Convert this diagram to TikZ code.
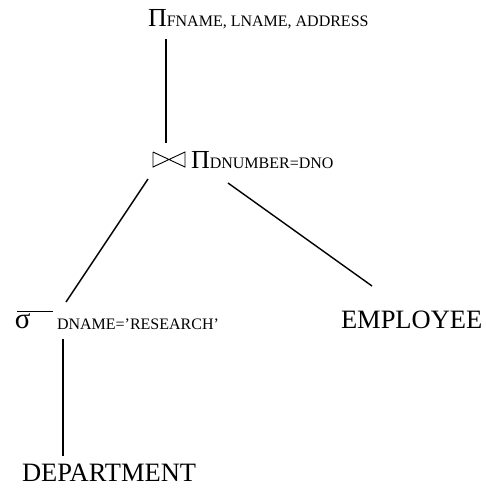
\documentclass[tikz,border=0pt]{standalone}
\usepackage{fontspec}
\setmainfont{Liberation Serif}
\begin{document}
\begin{tikzpicture}[x=1pt,y=-1pt,
  lbl/.style={inner sep=0pt,outer sep=0pt,anchor=base west},
  big/.style={font=\fontsize{26.5}{28}\selectfont},
  small/.style={font=\fontsize{16}{18}\selectfont},
  edge/.style={line width=1.4pt},
  vedge/.style={line width=2pt},
  opsym/.style={line width=0.9pt}]
\useasboundingbox (0,0) rectangle (486,488);

% projection on top
\node[lbl] (proj) at (148,26)
  {{\fontsize{26}{28}\selectfont Π}{\fontsize{16}{18}\selectfont FNAME, LNAME, ADDRESS}};

% join with its condition
\node[lbl] (join) at (191,168)
  {{\fontsize{26}{28}\selectfont Π}{\fontsize{16}{18}\selectfont DNUMBER=DNO}};
\draw[opsym] ([shift={(-38,-16)}]join.base west) -- ++(0,15)
  -- ++(32,-15) -- ++(0,15) -- ++(-32,-15);

% selection
\node[lbl] (sigma) at (15,328) {\fontsize{29}{30}\selectfont σ};
\draw[line width=0.8pt] ([shift={(2,-17)}]sigma.base west) -- ++(36,0);
\node[lbl,small] (sel) at (57,329) {DNAME=’RESEARCH’};

% relations
\node[lbl,big] (emp) at (341,328) {EMPLOYEE};
\node[lbl,big] (dept) at (22,481) {DEPARTMENT};

% tree edges
\draw[vedge] ([shift={(18,13)}]proj.base west) -- ([shift={(-25,-25)}]join.base west);
\draw[edge] ([shift={(-43,11)}]join.base west) -- ([shift={(9,-27)}]sel.base west);
\draw[edge] ([shift={(37,15)}]join.base west) -- ([shift={(31,-42)}]emp.base west);
\draw[vedge] ([shift={(6,10)}]sel.base west) -- ([shift={(41,-25)}]dept.base west);
\end{tikzpicture}
\end{document}
